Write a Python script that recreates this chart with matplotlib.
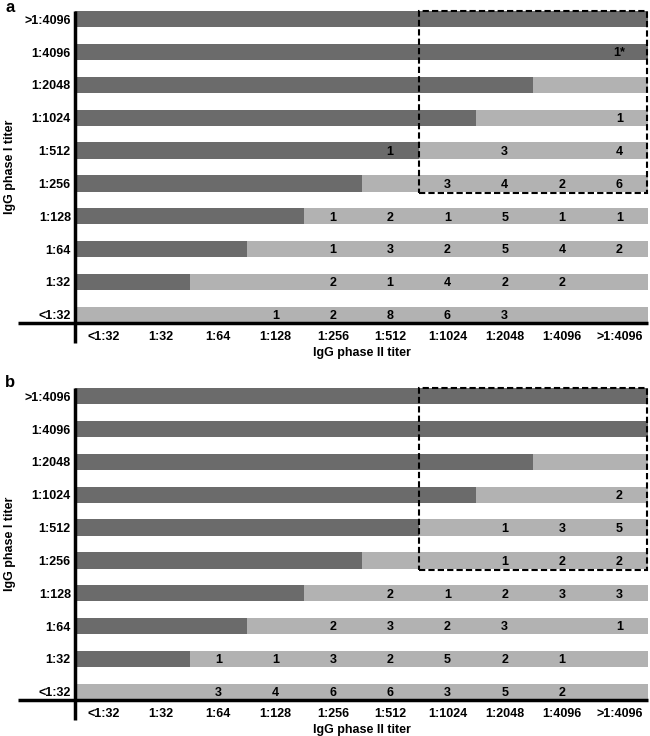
import matplotlib
matplotlib.use("Agg")
import matplotlib.pyplot as plt
from matplotlib.patches import Rectangle

plt.rcParams['font.family'] = ['Liberation Sans', 'DejaVu Sans']
plt.rcParams['font.weight'] = 'bold'

# ---- data ----
phase1_titers = ["<1:32", "1:32", "1:64", "1:128", "1:256", "1:512",
                 "1:1024", "1:2048", "1:4096", ">1:4096"]
phase2_titers = ["<1:32", "1:32", "1:64", "1:128", "1:256", "1:512",
                 "1:1024", "1:2048", "1:4096", ">1:4096"]
# number of phase II columns shaded dark in each phase I row
dark_cols = [0, 2, 3, 4, 5, 6, 7, 8, 10, 10]

# counts[row = phase I index][col = phase II index]
counts_a = [
    [0, 0, 0, 1, 2, 8, 6, 3, 0, 0],   # <1:32
    [0, 0, 0, 0, 2, 1, 4, 2, 2, 0],   # 1:32
    [0, 0, 0, 0, 1, 3, 2, 5, 4, 2],   # 1:64
    [0, 0, 0, 0, 1, 2, 1, 5, 1, 1],   # 1:128
    [0, 0, 0, 0, 0, 0, 3, 4, 2, 6],   # 1:256
    [0, 0, 0, 0, 0, 1, 0, 3, 0, 4],   # 1:512
    [0, 0, 0, 0, 0, 0, 0, 0, 0, 1],   # 1:1024
    [0, 0, 0, 0, 0, 0, 0, 0, 0, 0],   # 1:2048
    [0, 0, 0, 0, 0, 0, 0, 0, 0, 1],   # 1:4096
    [0, 0, 0, 0, 0, 0, 0, 0, 0, 0],   # >1:4096
]
starred_a = [(8, 9)]

counts_b = [
    [0, 0, 3, 4, 6, 6, 3, 5, 2, 0],   # <1:32
    [0, 0, 1, 1, 3, 2, 5, 2, 1, 0],   # 1:32
    [0, 0, 0, 0, 2, 3, 2, 3, 0, 1],   # 1:64
    [0, 0, 0, 0, 0, 2, 1, 2, 3, 3],   # 1:128
    [0, 0, 0, 0, 0, 0, 0, 1, 2, 2],   # 1:256
    [0, 0, 0, 0, 0, 0, 0, 1, 3, 5],   # 1:512
    [0, 0, 0, 0, 0, 0, 0, 0, 0, 2],   # 1:1024
    [0, 0, 0, 0, 0, 0, 0, 0, 0, 0],   # 1:2048
    [0, 0, 0, 0, 0, 0, 0, 0, 0, 0],   # 1:4096
    [0, 0, 0, 0, 0, 0, 0, 0, 0, 0],   # >1:4096
]
starred_b = []

# box region: phase II >= 1:1024, phase I >= 1:256
box_col_start = 6
box_row_start = 4

DARK = "#6b6b6b"
LIGHT = "#b2b2b2"

fig = plt.figure(figsize=(6.5, 7.36), dpi=100)

W, H = 650.0, 736.0
def axes_rect(top_px, bottom_px, left_px=75, right_px=648):
    return [left_px / W, 1 - bottom_px / H, (right_px - left_px) / W,
            (bottom_px - top_px) / H]

panels = [
    ("a", counts_a, starred_a, axes_rect(11, 323), 8),
    ("b", counts_b, starred_b, axes_rect(388, 700), 383),
]

ncol = len(phase2_titers)
nrow = len(phase1_titers)

for letter, counts, starred, rect, letter_y in panels:
    ax = fig.add_axes(rect)
    ys = list(range(nrow))
    ax.barh(ys, [ncol] * nrow, left=0, height=0.5, color=LIGHT, zorder=1)
    ax.barh(ys, dark_cols, left=0, height=0.5, color=DARK, zorder=2)
    for r in range(nrow):
        for c in range(ncol):
            v = counts[r][c]
            if v:
                lab = f"{v}*" if (r, c) in starred else str(v)
                ax.text(c + 0.5, r - 0.04, lab, ha='center', va='center',
                        fontsize=9, fontweight='bold', color='black', zorder=4)
    ax.set_xlim(0, ncol)
    ax.set_ylim(-0.25, nrow - 0.75)
    # dashed box
    ax.add_patch(Rectangle((box_col_start, box_row_start - 0.28),
                           ncol - box_col_start - 0.01,
                           (nrow - 0.75) - (box_row_start - 0.28) - 0.01,
                           fill=False, ec='black', lw=1.5,
                           ls=(0, (3, 1.5)), zorder=5, clip_on=False))
    for s in ax.spines.values():
        s.set_visible(False)
    # extended spines
    ax.plot([0, 0], [-0.064, 1], transform=ax.transAxes, color='black',
            lw=2.5, clip_on=False, zorder=6, solid_capstyle='butt')
    ax.plot([-0.1, 1], [0, 0], transform=ax.transAxes, color='black',
            lw=2.5, clip_on=False, zorder=6, solid_capstyle='butt')
    ax.set_yticks(ys)
    ax.set_yticklabels(phase1_titers, fontsize=9, fontweight='bold')
    ax.set_xticks([c + 0.5 for c in range(ncol)])
    ax.set_xticklabels(phase2_titers, fontsize=9, fontweight='bold')
    ax.tick_params(axis='both', length=0)
    ax.tick_params(axis='y', pad=3)
    ax.tick_params(axis='x', pad=6)
    ax.set_ylabel("IgG phase I titer", fontsize=9, fontweight='bold',
                  labelpad=6)
    ax.set_xlabel("IgG phase II titer", fontsize=9, fontweight='bold',
                  labelpad=3)
    fig.text(5 / W, 1 - letter_y / H, letter, fontsize=12,
             fontweight='bold', ha='left', va='center')

fig.savefig("out.png", dpi=100)
